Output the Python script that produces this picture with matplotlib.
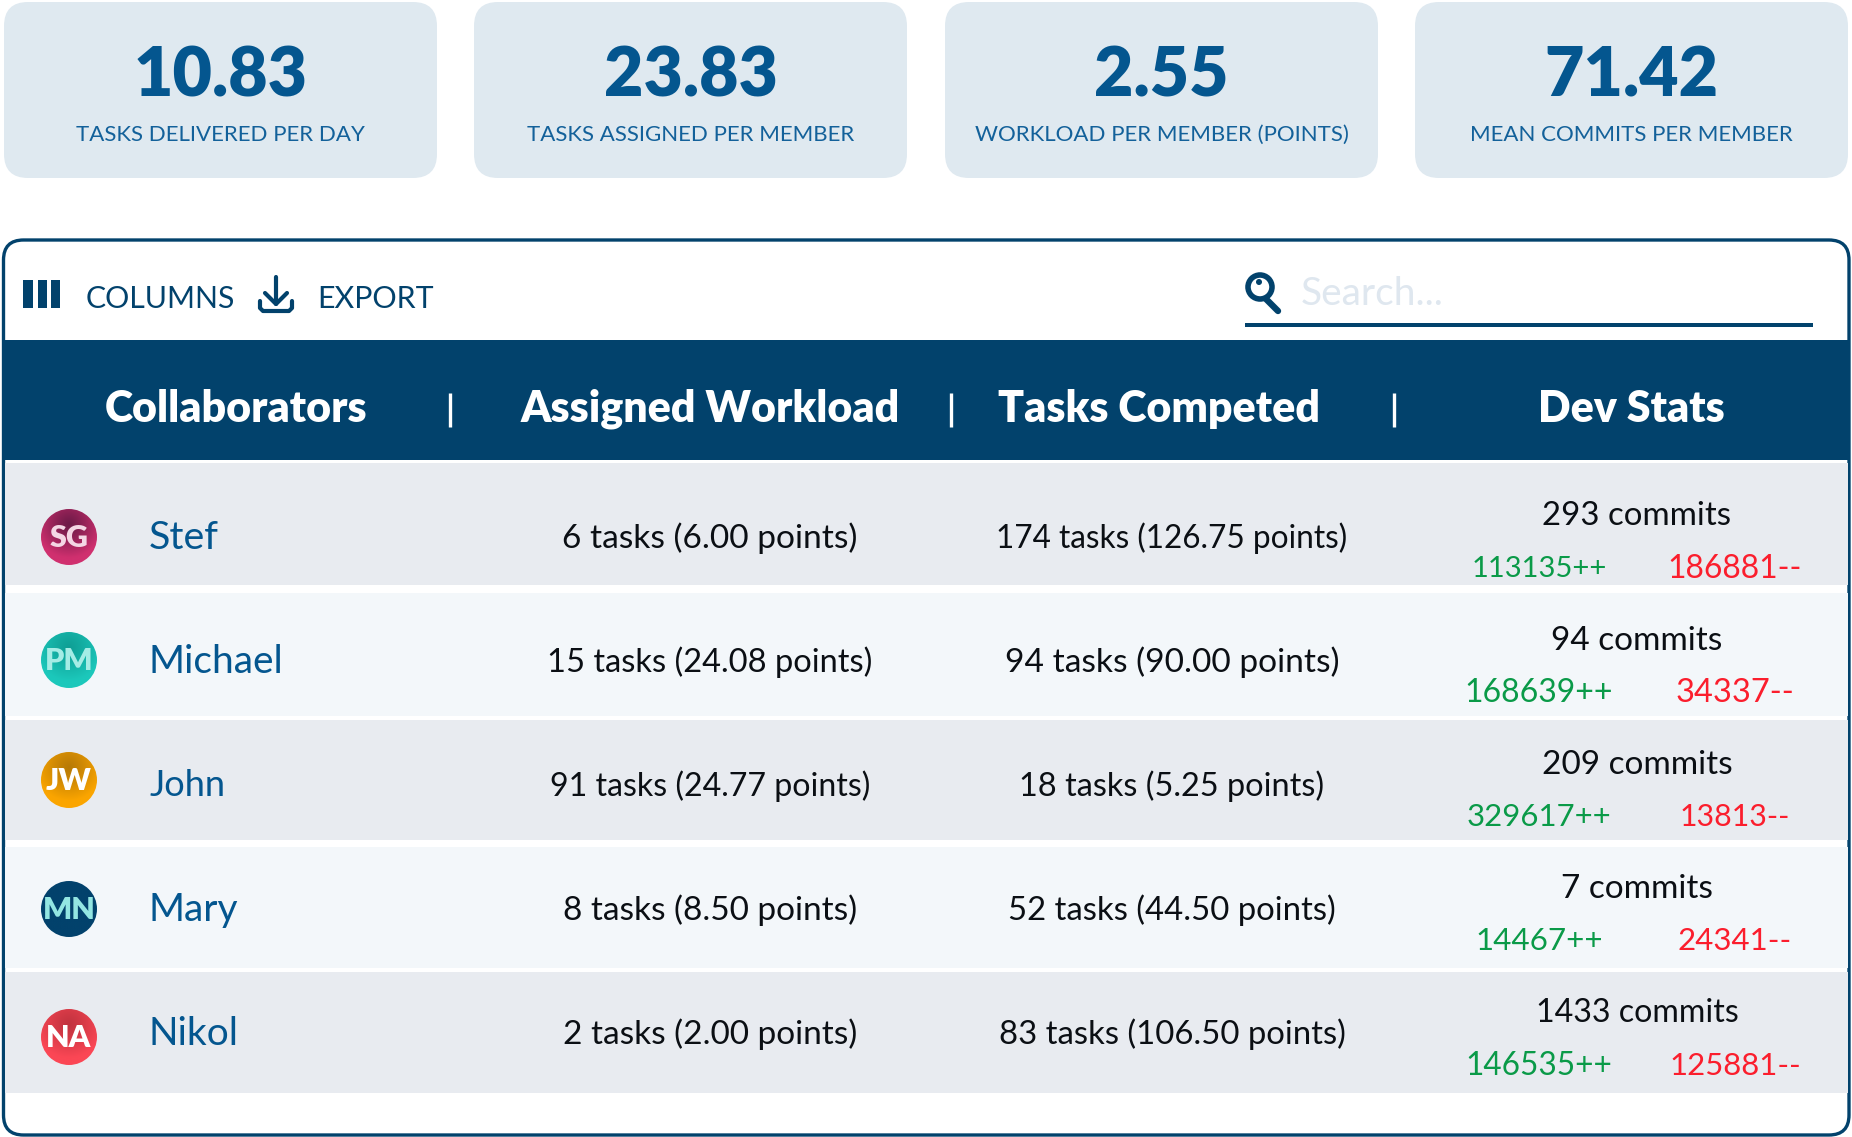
import numpy as np
import matplotlib
matplotlib.use("Agg")
import matplotlib.pyplot as plt
from matplotlib.patches import FancyBboxPatch, Rectangle, Circle

W, H = 1852, 1137

NAVY = "#02426c"
BLUE = "#04568f"
INK = "#0b0f14"

card_values = ["10.83", "23.83", "2.55", "71.42"]
card_labels = ["TASKS DELIVERED PER DAY", "TASKS ASSIGNED PER MEMBER",
               "WORKLOAD PER MEMBER (POINTS)", "MEAN COMMITS PER MEMBER"]
headers = ["Collaborators", "Assigned Workload", "Tasks Competed", "Dev Stats"]

names = ["Stef", "Michael", "John", "Mary", "Nikol"]
initials = ["SG", "PM", "JW", "MN", "NA"]
assigned_tasks = [6, 15, 91, 8, 2]
assigned_points = ["6.00", "24.08", "24.77", "8.50", "2.00"]
done_tasks = [174, 94, 18, 52, 83]
done_points = ["126.75", "90.00", "5.25", "44.50", "106.50"]
commits = [293, 94, 209, 7, 1433]
added = [113135, 168639, 329617, 14467, 146535]
removed = [186881, 34337, 13813, 24341, 125881]

# avatar colours: dark top, bright rim, letter colour
avatar_dark = ["#6e1a48", "#0f9f95", "#b87a06", "#02426c", "#c2333f"]
avatar_light = ["#d0306f", "#1cc8bb", "#fba500", "#02426c", "#fb4755"]
avatar_text = ["#f4d6e4", "#a5ece5", "#ffffff", "#93e6e2", "#ffffff"]

# the original font has narrow ones, Lato does not, so sizes differ per row
name_size = [28.4, 28, 26, 28, 28]
assigned_size = [24.1, 23.5, 23.1, 24, 24]
done_size = [22.7, 24.1, 23.4, 23.7, 23.7]
commit_size = [23.8, 24, 24, 24, 23.1]
added_size = [21, 23, 22.4, 22.6, 22.8]
removed_size = [22.9, 23.5, 21.8, 22.5, 22.4]


def rounded(ax, x0, y0, x1, y1, r, **kw):
    p = FancyBboxPatch((x0 + r, y0 + r), x1 - x0 - 2 * r, y1 - y0 - 2 * r,
                       boxstyle=f"round,pad={r},rounding_size={r}", **kw)
    ax.add_patch(p)
    return p


def draw_avatar(ax, cx, cy, r, dark, light):
    # radial-ish shading, darker towards the top
    n = 120
    yy, xx = np.mgrid[-1:1:n * 1j, -1:1:n * 1j]
    d = np.clip(np.hypot(xx, yy + 0.45) / 1.2, 0, 1)
    c0 = np.array(matplotlib.colors.to_rgb(dark))
    c1 = np.array(matplotlib.colors.to_rgb(light))
    img = c0 + (c1 - c0) * d[..., None] ** 1.2
    im = ax.imshow(img, extent=(cx - r, cx + r, cy + r, cy - r), zorder=3,
                   interpolation="bilinear", aspect="auto")
    im.set_clip_path(Circle((cx, cy), r, transform=ax.transData))


def draw_cards(ax):
    lefts = [4, 474, 945, 1415]
    for x0, val, lab in zip(lefts, card_values, card_labels):
        rounded(ax, x0, 2, x0 + 433, 178, 24, fc="#dfe9f0", ec="none")
        cx = x0 + 216.5
        ax.text(cx, 77, val, ha="center", va="center", fontsize=49,
                fontweight=800, color=BLUE)
        ax.text(cx, 135, lab, ha="center", va="center", fontsize=16,
                color="#13619a")


def draw_toolbar(ax):
    # columns icon
    for x, w in zip([23, 38, 51], [10, 8.5, 8.5]):
        ax.add_patch(Rectangle((x, 280), w, 28, fc=NAVY, ec="none"))
    ax.text(86, 299.5, "COLUMNS", ha="left", va="center", fontsize=21.8, color=NAVY)
    # download icon
    ax.plot([276, 276], [277, 304], color=NAVY, lw=3, solid_capstyle="round")
    ax.plot([265, 276, 287], [293, 304, 293], color=NAVY, lw=3,
            solid_capstyle="round", solid_joinstyle="round")
    ax.plot([260, 260, 263, 289, 292, 292], [301, 308, 311, 311, 308, 301], color=NAVY,
            lw=3, solid_capstyle="round", solid_joinstyle="round")
    ax.text(317, 299.5, "EXPORT", ha="left", va="center", fontsize=21.9, color=NAVY)
    # search
    ax.add_patch(Circle((1260, 287), 12, fc="none", ec=NAVY, lw=4))
    ax.add_patch(Circle((1259, 282), 3, fc=NAVY, ec="none"))
    ax.plot([1266, 1278], [299, 311], color=NAVY, lw=4.6, solid_capstyle="round")
    ax.text(1301, 294, "Search...", ha="left", va="center", fontsize=28, color="#dfe7ef")
    ax.add_patch(Rectangle((1245, 323), 568, 4, fc=NAVY, ec="none"))


def draw_header(ax):
    ax.add_patch(Rectangle((4, 340), 1844, 120, fc=NAVY, ec="none"))
    for cx, h in zip([236, 710, 1159, 1631], headers):
        ax.text(cx, 409, h, ha="center", va="center", fontsize=30.9,
                fontweight=800, color="white")
    for x in [450, 951, 1394]:
        ax.plot([x, x], [393, 427], color="white", lw=2.4, solid_capstyle="butt")


def draw_rows(ax):
    row_top = [463, 593, 720, 847, 972]
    row_bot = [585, 716, 840, 968, 1093]
    row_col = ["#e8ebf0", "#f3f7fa", "#e8ebf0", "#f3f7fa", "#e8ebf0"]
    text_y = [538, 662, 786, 910, 1034]
    avatar_y = [537, 660, 780, 909, 1037]
    commit_y = [516, 641, 765, 889, 1013]
    diff_y = [569, 693, 817, 941, 1066]
    for i in range(len(names)):
        ax.add_patch(Rectangle((5, row_top[i]), 1843, row_bot[i] - row_top[i],
                               fc=row_col[i], ec="none"))
        draw_avatar(ax, 69, avatar_y[i], 28, avatar_dark[i], avatar_light[i])
        ax.text(69, avatar_y[i] + 1, initials[i], ha="center", va="center", fontsize=22,
                fontweight=800, color=avatar_text[i], zorder=4)
        ax.text(149, text_y[i], names[i], ha="left", va="center", fontsize=name_size[i],
                color=BLUE)
        ax.text(710, text_y[i], f"{assigned_tasks[i]} tasks ({assigned_points[i]} points)",
                ha="center", va="center", fontsize=assigned_size[i], color=INK)
        ax.text(1172, text_y[i], f"{done_tasks[i]} tasks ({done_points[i]} points)",
                ha="center", va="center", fontsize=done_size[i], color=INK)
        ax.text(1637, commit_y[i], f"{commits[i]} commits", ha="center", va="center",
                fontsize=commit_size[i], color=INK)
        ax.text(1539, diff_y[i], f"{added[i]}++", ha="center", va="center",
                fontsize=added_size[i], color="#0a9a48")
        ax.text(1735, diff_y[i], f"{removed[i]}--", ha="center", va="center",
                fontsize=removed_size[i], color="#fb1e2d")


def main():
    plt.rcParams["font.family"] = ["Lato", "DejaVu Sans"]
    fig = plt.figure(figsize=(W / 100, H / 100), dpi=100)
    ax = fig.add_axes([0, 0, 1, 1])

    draw_cards(ax)
    rounded(ax, 3.5, 240, 1849, 1135, 20, fc="white", ec=NAVY, lw=2.4, zorder=0)
    draw_toolbar(ax)
    draw_header(ax)
    draw_rows(ax)

    ax.set_xlim(0, W)
    ax.set_ylim(H, 0)
    ax.axis("off")
    fig.savefig("out.png", dpi=100)


if __name__ == "__main__":
    main()
